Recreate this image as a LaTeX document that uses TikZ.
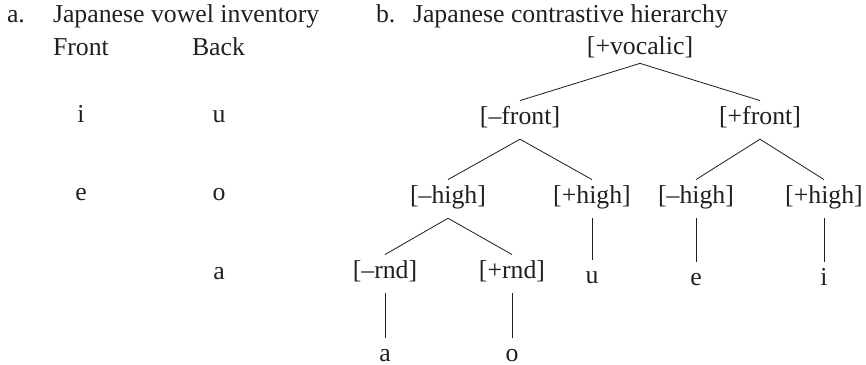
\documentclass[tikz,border=0pt]{standalone}
\usepackage{fontspec}
\setmainfont{Liberation Serif}
\definecolor{TextInk}{HTML}{231F20}

\begin{document}
\begin{tikzpicture}[x=0.03cm,y=-0.03cm,every node/.style={font=\fontsize{22}{26}\selectfont,text=TextInk,inner sep=0pt,outer sep=0pt},lbl/.style={anchor=base west},feat/.style={anchor=base,text height=20pt,text depth=13pt},branch/.style={line width=0.7pt,draw=TextInk}]
\useasboundingbox (0,0) rectangle (866,365);

% a. inventory
\node[lbl] (la) at (7,22) {a.}; \node[lbl] (ta) at (53,22) {Japanese vowel inventory};
\node[lbl] (front) at (53,55) {Front}; \node[lbl] (back) at (192,55) {Back};
\node[anchor=base] (vi) at (81,122) {i}; \node[anchor=base] (vu) at (219,122) {u};
\node[anchor=base] (ve) at (81,200) {e}; \node[anchor=base] (vo) at (219,200) {o};
\node[anchor=base] (va) at (219,279) {a};

% b. hierarchy
\node[lbl] (lb) at (376,22) {b.}; \node[lbl] (tb) at (413,22) {Japanese contrastive hierarchy};
\node[feat,text depth=8pt] (voc) at (640,54) {[+vocalic]};
\node[feat] (mfront) at (520,124) {[\textendash front]}; \node[feat] (pfront) at (760,124) {[+front]};
\node[feat] (mhigh) at (448,203) {[\textendash high]}; \node[feat] (phigh) at (592,203) {[+high]};
\node[feat] (mhighb) at (696,203) {[\textendash high]}; \node[feat] (phighb) at (824,203) {[+high]};
\node[feat] (mrnd) at (385,278) {[\textendash rnd]}; \node[feat] (prnd) at (512,278) {[+rnd]};
\node[feat] (lu) at (592,283) {u}; \node[feat] (le) at (696,285) {e}; \node[feat] (li) at (824,285) {i};
\node[feat] (la2) at (385,361) {a}; \node[feat] (lo) at (512,361) {o};

\draw[branch] (voc.south) -- (mfront.north); \draw[branch] (voc.south) -- (pfront.north);
\draw[branch] (mfront.south) -- (mhigh.north); \draw[branch] (mfront.south) -- (phigh.north);
\draw[branch] (pfront.south) -- (mhighb.north); \draw[branch] (pfront.south) -- (phighb.north);
\draw[branch] (mhigh.south) -- (mrnd.north); \draw[branch] (mhigh.south) -- (prnd.north);
\draw[branch] (phigh.south) -- (lu.north); \draw[branch] (mhighb.south) -- (le.north); \draw[branch] (phighb.south) -- (li.north);
\draw[branch] (mrnd.south) -- (la2.north); \draw[branch] (prnd.south) -- (lo.north);

\end{tikzpicture}
\end{document}
